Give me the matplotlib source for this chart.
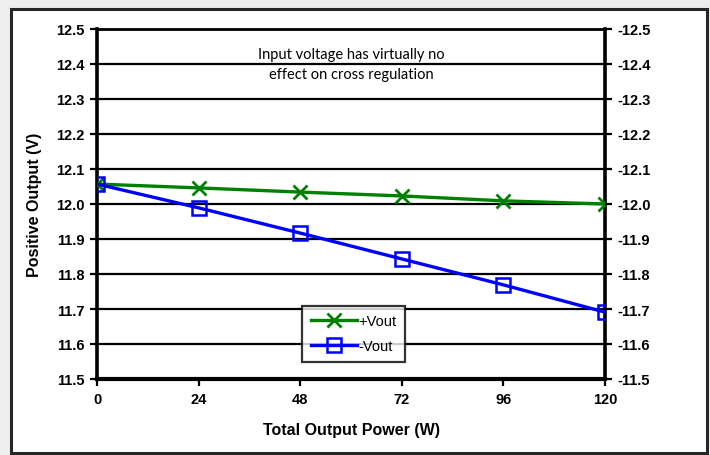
import matplotlib
matplotlib.use('Agg')
import matplotlib.pyplot as plt
from matplotlib.patches import Rectangle

# data
power = [0, 24, 48, 72, 96, 120]
pos_vout = [12.057, 12.046, 12.034, 12.023, 12.009, 12.0]
neg_vout = [12.057, 11.989, 11.917, 11.843, 11.769, 11.691]
yticks = [11.5, 11.6, 11.7, 11.8, 11.9, 12.0, 12.1, 12.2, 12.3, 12.4, 12.5]
right_labels = ['-%.1f' % v for v in yticks]
note = 'Input voltage has virtually no\neffect on cross regulation'

plt.rcParams['font.family'] = ['Liberation Sans', 'DejaVu Sans']

fig = plt.figure(figsize=(7.1, 4.56), dpi=100)
fig.patch.set_facecolor('#eeeeee')
# white panel with dark frame
fig.patches.append(Rectangle((11 / 710, 1 - 454 / 456), 696 / 710, 444 / 456,
                             transform=fig.transFigure, facecolor='white',
                             edgecolor='#262626', linewidth=2.2, zorder=-10))

ax = fig.add_axes([97 / 710, 1 - 380 / 456, 508 / 710, 350 / 456])
ax.set_xlim(0, 120)
ax.set_ylim(11.5, 12.5)
ax.set_xticks(power)
ax.set_yticks(yticks)
ax.set_yticklabels(['%.1f' % v for v in yticks])
ax.yaxis.grid(True, color='black', linewidth=1.6)
ax.set_axisbelow(True)

ax.plot(power, pos_vout, color='#008000', linewidth=2.4, marker='x',
        markersize=10, markeredgewidth=2, label='+Vout', zorder=3)
ax.plot(power, neg_vout, color='#0000ff', linewidth=2.4, marker='s',
        markersize=10, markerfacecolor='none', markeredgewidth=1.8,
        label='-Vout', zorder=3)

for s in ax.spines.values():
    s.set_linewidth(2)
ax.spines['left'].set_linewidth(2.6)
ax.spines['bottom'].set_linewidth(3)
ax.spines['right'].set_linewidth(2.6)

ax.tick_params(axis='both', direction='out', length=5, width=1.6,
               labelsize=10.5, pad=4)
for lab in ax.get_xticklabels() + ax.get_yticklabels():
    lab.set_fontweight('bold')

ax2 = ax.twinx()
ax2.set_ylim(11.5, 12.5)
ax2.set_yticks(yticks)
ax2.set_yticklabels(right_labels, fontweight='bold')
ax2.tick_params(axis='y', direction='out', length=5, width=1.6,
                labelsize=10.5, pad=4)
for s in ax2.spines.values():
    s.set_visible(False)

ax.set_xlabel('Total Output Power (W)', fontsize=11.5, fontweight='bold', labelpad=12)
ax.set_ylabel('Positive Output (V)', fontsize=11.5, fontweight='bold', labelpad=10)

ax.text(0.5, 0.9, note, transform=ax.transAxes, ha='center', va='center',
        fontsize=10.5, family=['Lato', 'DejaVu Sans'], linespacing=1.55)

leg = ax.legend(loc='center', bbox_to_anchor=(0.505, 0.129), frameon=True,
                fancybox=False, edgecolor='black', fontsize=10.5,
                handlelength=3.2, handletextpad=0.05, borderpad=0.6,
                labelspacing=0.75, borderaxespad=0)
leg.get_frame().set_linewidth(1.6)
leg.set_zorder(5)

fig.savefig('out.png', dpi=100, facecolor=fig.get_facecolor())
